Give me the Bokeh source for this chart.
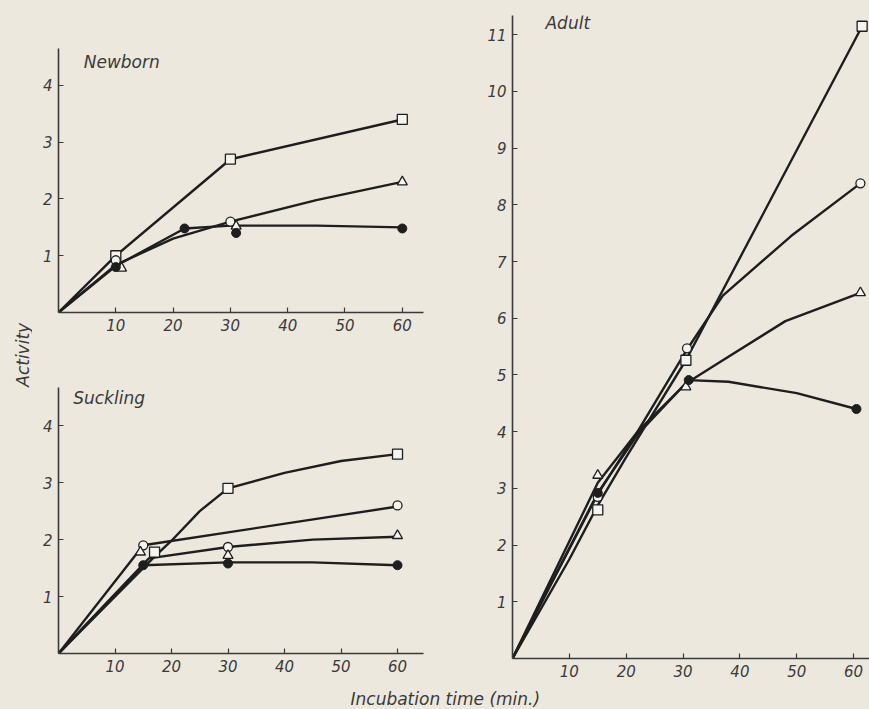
import math
from bokeh.plotting import figure
from bokeh.layouts import row, column
from bokeh.models import Range1d, FixedTicker, Label
from bokeh.embed import file_html
from bokeh.resources import INLINE

# ---------------- data ----------------
x_ticks = [10, 20, 30, 40, 50, 60]
y_ticks_small = [1, 2, 3, 4]
y_ticks_adult = [1, 2, 3, 4, 5, 6, 7, 8, 9, 10, 11]

# Newborn: markers
nb_sq_x = [10, 30, 60]
nb_sq_y = [1.0, 2.7, 3.4]
nb_oc_x = [10, 30]
nb_oc_y = [0.92, 1.6]
nb_tr_x = [11, 31, 60]
nb_tr_y = [0.78, 1.52, 2.3]
nb_fc_x = [10, 22, 31, 60]
nb_fc_y = [0.8, 1.48, 1.4, 1.48]
# Newborn: curves
nb_line_sq_x = [0, 10, 30, 60]
nb_line_sq_y = [0, 1.0, 2.7, 3.4]
nb_line_tr_x = [0, 10, 20, 30, 45, 60]
nb_line_tr_y = [0, 0.84, 1.3, 1.6, 1.98, 2.3]
nb_line_fc_x = [0, 10, 22, 30, 45, 60]
nb_line_fc_y = [0, 0.82, 1.48, 1.53, 1.53, 1.5]

# Suckling: markers
sk_sq_x = [17, 30, 60]
sk_sq_y = [1.78, 2.9, 3.5]
sk_oc_x = [15, 30, 60]
sk_oc_y = [1.9, 1.87, 2.6]
sk_tr_x = [14.5, 30, 60]
sk_tr_y = [1.78, 1.72, 2.07]
sk_fc_x = [15, 30, 60]
sk_fc_y = [1.55, 1.58, 1.55]
# Suckling: curves
sk_line_sq_x = [0, 17, 20, 25, 30, 40, 50, 60]
sk_line_sq_y = [0, 1.7, 1.98, 2.5, 2.9, 3.17, 3.38, 3.5]
sk_line_oc_x = [0, 15, 60]
sk_line_oc_y = [0, 1.9, 2.58]
sk_line_tr_x = [0, 16, 30, 45, 60]
sk_line_tr_y = [0, 1.67, 1.87, 2.0, 2.05]
sk_line_fc_x = [0, 15, 30, 45, 60]
sk_line_fc_y = [0, 1.55, 1.6, 1.6, 1.55]

# Adult: markers
ad_sq_x = [15, 30.5, 61.5]
ad_sq_y = [2.62, 5.26, 11.15]
ad_oc_x = [15, 30.7, 61.2]
ad_oc_y = [2.85, 5.47, 8.38]
ad_tr_x = [15, 30.5, 61.2]
ad_tr_y = [3.23, 4.79, 6.45]
ad_fc_x = [15, 31, 60.5]
ad_fc_y = [2.92, 4.91, 4.4]
# Adult: curves
ad_line_sq_x = [0, 10, 15, 20, 30.5, 61.5]
ad_line_sq_y = [0, 1.75, 2.7, 3.55, 5.26, 11.15]
ad_line_oc_x = [0, 15, 22, 30.7, 37, 49, 61.2]
ad_line_oc_y = [0, 2.9, 4.0, 5.45, 6.4, 7.45, 8.38]
ad_line_tr_x = [0, 15, 22, 30.5, 37, 48, 61.2]
ad_line_tr_y = [0, 3.1, 4.0, 4.85, 5.26, 5.95, 6.45]
ad_line_fc_x = [0, 15, 22, 31, 38, 50, 60.5]
ad_line_fc_y = [0, 2.92, 3.95, 4.91, 4.88, 4.68, 4.4]

# ---------------- styling ----------------
PAPER = "#ece8de"
MARK_FILL = "#f6f4ee"
INK = "#1e1e1e"
AXIS = "#3a3a3a"
TXT = "#3a3a3a"
FONT = "DejaVu Sans"
BG_STYLE = {"background-color": PAPER}


def panel(width, height, xmax, ymax, borders, yticks):
    l, r, t, b = borders
    p = figure(width=width, height=height,
               x_range=Range1d(0, xmax), y_range=Range1d(0, ymax),
               output_backend="svg", toolbar_location=None,
               min_border_left=l, min_border_right=r,
               min_border_top=t, min_border_bottom=b,
               background_fill_color=None, border_fill_color=None,
               outline_line_color=None, styles=BG_STYLE)
    p.grid.visible = False
    for ax in (p.xaxis[0], p.yaxis[0]):
        ax.axis_line_color = AXIS
        ax.axis_line_width = 1.6
        ax.major_tick_in = 5
        ax.major_tick_out = 0
        ax.minor_tick_in = 0
        ax.minor_tick_out = 0
        ax.major_tick_line_color = AXIS
        ax.major_tick_line_width = 1.2
        ax.major_label_text_font = FONT
        ax.major_label_text_font_style = "italic"
        ax.major_label_text_font_size = "15px"
        ax.major_label_text_color = TXT
    p.xaxis[0].ticker = FixedTicker(ticks=x_ticks)
    p.yaxis[0].ticker = FixedTicker(ticks=yticks)
    p.xaxis[0].major_label_standoff = 6
    p.yaxis[0].major_label_standoff = 6
    return p


def draw(p, lines, markers):
    for lx, ly in lines:
        p.line(lx, ly, line_color=INK, line_width=2.4)
    for kind, mx, my in markers:
        if kind == "square":
            p.scatter(mx, my, marker="square", size=10, fill_color=MARK_FILL,
                      line_color=INK, line_width=1.3)
        elif kind == "circle":
            p.scatter(mx, my, marker="circle", size=9, fill_color=MARK_FILL,
                      line_color=INK, line_width=1.3)
        elif kind == "triangle":
            p.scatter(mx, my, marker="triangle", size=10, fill_color=MARK_FILL,
                      line_color=INK, line_width=1.3)
        else:
            p.scatter(mx, my, marker="circle", size=9, fill_color=INK,
                      line_color=INK, line_width=1)


def title(p, x, y, text):
    p.add_layout(Label(x=x, y=y, text=text, text_font=FONT,
                       text_font_style="italic", text_font_size="17px",
                       text_color=TXT, text_baseline="middle"))


# Newborn panel (page x 32..440, y 0..340)
p1 = panel(408, 340, 63.7, 4.65, (26, 17, 48, 28), y_ticks_small)
draw(p1,
     [(nb_line_sq_x, nb_line_sq_y), (nb_line_tr_x, nb_line_tr_y), (nb_line_fc_x, nb_line_fc_y)],
     [("square", nb_sq_x, nb_sq_y), ("circle", nb_oc_x, nb_oc_y),
      ("triangle", nb_tr_x, nb_tr_y), ("filled", nb_fc_x, nb_fc_y)])
title(p1, 4.4, 4.41, "Newborn")

# Suckling panel (page x 32..440, y 340..686)
p2 = panel(408, 346, 64.6, 4.67, (23, 17, 47, 33), y_ticks_small)
draw(p2,
     [(sk_line_sq_x, sk_line_sq_y), (sk_line_oc_x, sk_line_oc_y),
      (sk_line_tr_x, sk_line_tr_y), (sk_line_fc_x, sk_line_fc_y)],
     [("square", sk_sq_x, sk_sq_y), ("circle", sk_oc_x, sk_oc_y),
      ("triangle", sk_tr_x, sk_tr_y), ("filled", sk_fc_x, sk_fc_y)])
title(p2, 2.6, 4.49, "Suckling")

# Adult panel (page x 440..869, y 0..686)
p3 = panel(429, 686, 62.8, 11.34, (72, 0, 15, 28), y_ticks_adult)
draw(p3,
     [(ad_line_sq_x, ad_line_sq_y), (ad_line_oc_x, ad_line_oc_y),
      (ad_line_tr_x, ad_line_tr_y), (ad_line_fc_x, ad_line_fc_y)],
     [("square", ad_sq_x, ad_sq_y), ("circle", ad_oc_x, ad_oc_y),
      ("triangle", ad_tr_x, ad_tr_y), ("filled", ad_fc_x, ad_fc_y)])
title(p3, 5.8, 11.2, "Adult")


def blank(width, height):
    p = figure(width=width, height=height, x_range=Range1d(0, width),
               y_range=Range1d(0, height), output_backend="svg",
               toolbar_location=None, x_axis_type=None, y_axis_type=None,
               min_border=0, background_fill_color=None,
               border_fill_color=None, outline_line_color=None,
               styles=BG_STYLE)
    p.grid.visible = False
    return p


# y-axis title strip (page x 0..32)
pl = blank(32, 686)
pl.add_layout(Label(x=22, y=324, text="Activity", angle=math.pi / 2,
                    text_font=FONT, text_font_style="italic",
                    text_font_size="17px", text_color=TXT,
                    text_align="center", text_baseline="middle"))

# x-axis title strip (page y 686..709)
pb = blank(869, 23)
pb.add_layout(Label(x=350, y=11, text="Incubation time (min.)",
                    text_font=FONT, text_font_style="italic",
                    text_font_size="17px", text_color=TXT,
                    text_align="left", text_baseline="middle"))

inner_left = column(p1, p2, styles=BG_STYLE)
top_row = row(pl, inner_left, p3, styles=BG_STYLE)
layout = column(top_row, pb, styles=BG_STYLE)

open("out.html", "w").write(file_html(layout, INLINE))
